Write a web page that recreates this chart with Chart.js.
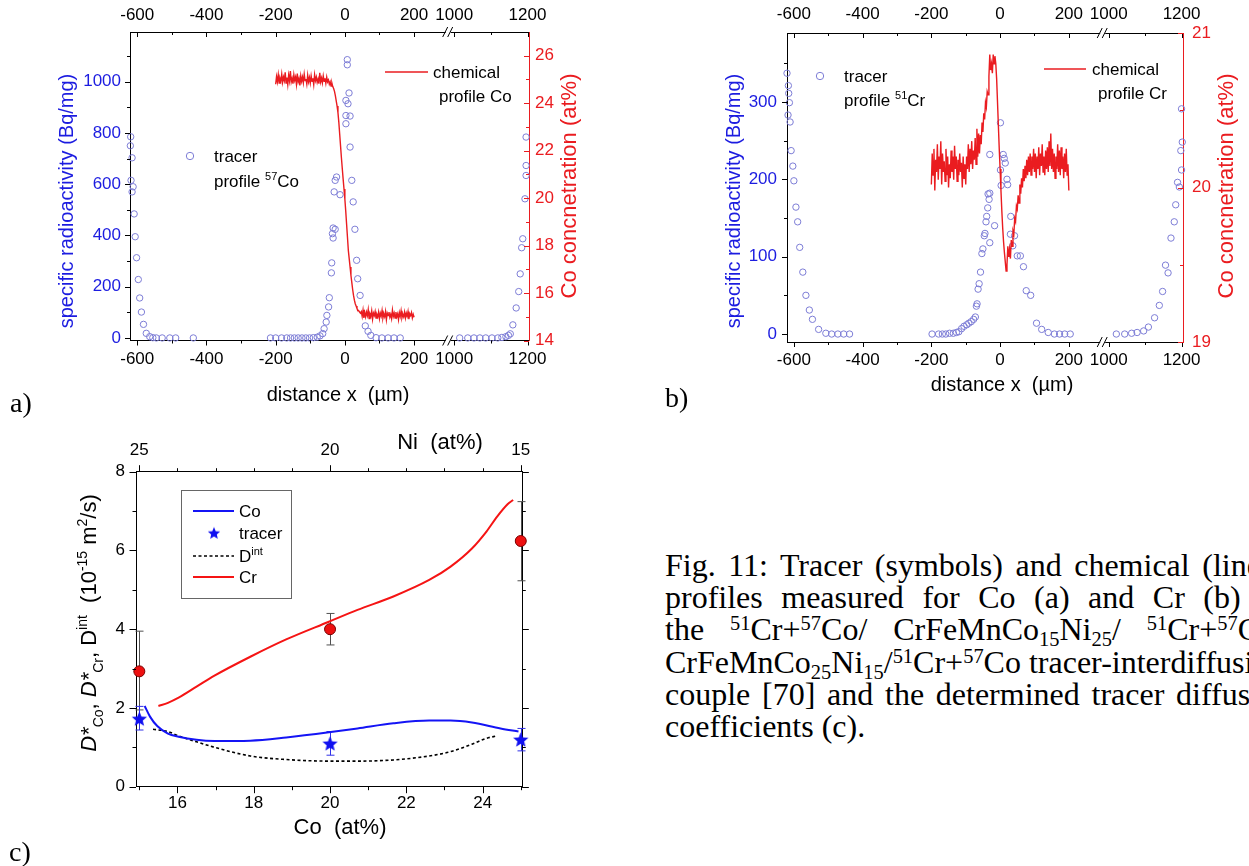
<!DOCTYPE html>
<html>
<head>
<meta charset="utf-8">
<script src="https://cdn.jsdelivr.net/npm/chart.js@4"></script>
<style>
html, body { margin: 0; padding: 0; background: #fff; }
body { width: 1249px; height: 866px; position: relative; overflow: hidden; }
canvas { position: absolute; }
.lab { position: absolute; font-family: 'Liberation Serif'; font-size: 28px; line-height: 28px; }
#cap { position: absolute; left: 665px; top: 548.5px; font-family: 'Liberation Serif'; font-size: 32px; line-height: 32.4px; color: #000; }
#cap .ln { width: 619px; text-align: justify; text-align-last: justify; height: 32.4px; }
#cap .left { text-align: left; text-align-last: left; white-space: nowrap; }
#cap sup { font-size: 0.64em; vertical-align: 0.5em; line-height: 0; }
#cap sub { font-size: 0.64em; vertical-align: -0.3em; line-height: 0; }
</style>
</head>
<body>
<canvas id="ca" width="640" height="420" style="left:0;top:0"></canvas>
<canvas id="cb" width="599" height="420" style="left:650px;top:0"></canvas>
<canvas id="cc" width="640" height="436" style="left:0;top:430px"></canvas>
<div class="lab" style="left:10px;top:389px">a)</div>
<div class="lab" style="left:665px;top:384px">b)</div>
<div class="lab" style="left:9px;top:838px">c)</div>
<div id="cap">
  <div class="ln">Fig. 11: Tracer (symbols) and chemical (lines)</div>
  <div class="ln">profiles measured for Co (a) and Cr (b) in</div>
  <div class="ln">the <sup>51</sup>Cr+<sup>57</sup>Co/ CrFeMnCo<sub>15</sub>Ni<sub>25</sub>/ <sup>51</sup>Cr+<sup>57</sup>Co/</div>
  <div class="ln left">CrFeMnCo<sub>25</sub>Ni<sub>15</sub>/<sup>51</sup>Cr+<sup>57</sup>Co tracer-interdiffusion</div>
  <div class="ln" style="width:626px">couple [70] and the determined tracer diffusion</div>
  <div class="ln left">coefficients (c).</div>
</div>
<script>
// distance axis of a) and b) is broken between 300 and 985 um
const xMajor = [-600, -400, -200, 0, 200, 1000, 1200];
const xMinor = [-500, -300, -100, 100, 1100];

// a) 57Co tracer (Bq/mg)
const coTracerX = [-619, -620, -615, -618, -612, -615, -609, -606, -602, -597, -593, -588, -582, -574, -564, -555, -545, -528, -506, -489, -438,
  -215, -200, -183, -168, -157, -146, -135, -124, -113, -102, -91, -80, -72, -64, -60, -54, -52, -47, -45, -39, -38, -36, -34, -34, -28, -31, -28, -24, -14,
  3, 3, 3, 7, 7, 9, 12, 15, 15, 20, 24, 29, 34, 37, 44, 59, 67, 75, 90, 107, 125, 142, 160,
  1015, 1037, 1054, 1070, 1086, 1103, 1119, 1130, 1141, 1148, 1153, 1160, 1169, 1176, 1180, 1184, 1187, 1193, 1196, 1196, 1196];
const coTracerY = [785, 750, 703, 615, 590, 570, 484, 395, 313, 228, 156, 101, 53, 18, 5, 1, 0, 0, 0, 0, 0,
  0, 0, 0, 0, 0, 0, 0, 0, 0, 0, 1, 3, 8, 17, 36, 62, 88, 121, 157, 254, 293, 407, 390, 429, 424, 570, 615, 628, 559,
  836, 868, 927, 1086, 1066, 914, 956, 866, 745, 615, 531, 424, 303, 231, 166, 47, 26, 10, 1, 0, 0, 0, 0,
  0, 0, 0, 0, 0, 0, 0, 2, 5, 10, 16, 51, 117, 181, 250, 352, 387, 543, 634, 673, 784];

// positions (um) of the chemical profile readings, a) and b)
const chemX = [-200, -197.5, -195, -192.5, -190, -187.5, -185, -182.5, -180, -177.5,
  -175, -172.5, -170, -167.5, -165, -162.5, -160, -157.5, -155, -152.5,
  -150, -147.5, -145, -142.5, -140, -137.5, -135, -132.5, -130, -127.5,
  -125, -122.5, -120, -117.5, -115, -112.5, -110, -107.5, -105, -102.5,
  -100, -97.5, -95, -92.5, -90, -87.5, -85, -82.5, -80, -77.5,
  -75, -72.5, -70, -67.5, -65, -62.5, -60, -57.5, -55, -52.5,
  -50, -47.5, -45, -42.5, -40, -37.5, -35, -32.5, -30, -27.5,
  -25, -22.5, -20, -17.5, -15, -12.5, -10, -7.5, -5, -2.5,
  0, 2.5, 5, 7.5, 10, 12.5, 15, 17.5, 20, 22.5,
  25, 27.5, 30, 32.5, 35, 37.5, 40, 42.5, 45, 47.5,
  50, 52.5, 55, 57.5, 60, 62.5, 65, 67.5, 70, 72.5,
  75, 77.5, 80, 82.5, 85, 87.5, 90, 92.5, 95, 97.5,
  100, 102.5, 105, 107.5, 110, 112.5, 115, 117.5, 120, 122.5,
  125, 127.5, 130, 132.5, 135, 137.5, 140, 142.5, 145, 147.5,
  150, 152.5, 155, 157.5, 160, 162.5, 165, 167.5, 170, 172.5,
  175, 177.5, 180, 182.5, 185, 187.5, 190, 192.5, 195, 197.5, 200];

// a) chemical Co profile (at%)
const coChem = [24.8, 25.12, 24.9, 25.2, 24.85, 25.05, 24.92, 25.22, 24.88, 25.1,
  24.95, 25.3, 24.85, 25.08, 24.78, 25.18, 24.94, 25.35, 24.9, 25.05,
  24.82, 25.2, 24.96, 25.1, 24.8, 25.25, 24.9, 25.04, 24.75, 25.15,
  24.92, 25.1, 24.86, 25.22, 24.95, 25.02, 24.8, 25.18, 24.9, 25.08,
  24.85, 25.15, 24.92, 25.05, 24.78, 25.2, 24.95, 25.1, 24.88, 25.02,
  24.82, 25.28, 24.9, 25.06, 24.86, 25.15, 24.92, 25.05, 24.84, 25.1,
  24.9, 24.98, 24.8, 24.9, 24.72, 24.85, 24.7, 24.62, 24.5, 24.32,
  24.1, 23.88, 23.6, 23.2, 22.7, 22.2, 21.7, 21.25, 20.8, 20.38,
  19.95, 19.45, 18.9, 18.35, 17.8, 17.45, 17.1, 16.75, 16.45, 16.15,
  15.9, 15.7, 15.55, 15.45, 15.35, 15.28, 15.25, 15.2, 15.15, 15.22,
  15.02, 15.28, 14.95, 15.18, 15.0, 15.2, 15.05, 15.3, 14.92, 15.12,
  15.02, 15.25, 14.9, 15.15, 15.05, 15.22, 14.95, 15.1, 15.0, 15.2,
  14.92, 15.15, 15.02, 15.26, 14.95, 15.12, 15.0, 15.22, 14.88, 15.15,
  15.05, 15.2, 14.98, 15.1, 14.92, 15.28, 15.02, 15.15, 14.95, 15.2,
  15.0, 15.12, 14.88, 15.18, 15.02, 15.25, 14.96, 15.1, 15.0, 15.2,
  14.95, 15.15, 15.02, 15.22, 14.9, 15.12, 15.05, 15.18, 14.95, 15.1, 14.98];

// b) 51Cr tracer (Bq/mg) and chemical Cr profile (at%)
const crTracerX = [-620, -616, -615, -613, -617, -611, -608, -603, -600, -594, -589, -583, -574, -565, -555, -546, -528, -507, -490, -472, -455, -438,
  -198, -179, -168, -158, -147, -136, -127, -120, -112, -105, -97, -91, -84, -77, -72, -69, -67, -64, -61, -57, -53, -50, -46,
  -44, -41, -39, -36, -32, -35, -30, -30, -30, -16, 1, 1, 3, 9, 12, 15, 20, 22, 31, 30, 42, 37, 50, 59, 68, 76, 89, 106, 121, 140, 158, 173, 188, 204,
  1021, 1044, 1063, 1078, 1096, 1109, 1126, 1139, 1148, 1156, 1163, 1171, 1180, 1184, 1189, 1194, 1200, 1198, 1202, 1200];
const crTracerY = [337, 321, 311, 299, 283, 274, 237, 217, 198, 164, 145, 112, 80, 50, 31, 19, 6, 1, 0, 0, 0, 0,
  0, 0, 0, 0, 1, 1, 2, 3, 7, 10, 12, 14, 16, 19, 22, 36, 39, 58, 65, 80, 104, 110, 127,
  130, 145, 152, 163, 174, 181, 182, 118, 232, 140, 273, 212, 192, 232, 227, 221, 200, 193, 152, 129, 127, 114, 101, 101, 87, 56, 50, 14, 6, 2, 0, 0, 0, 0,
  0, 0, 1, 2, 4, 9, 21, 37, 55, 89, 79, 124, 145, 167, 196, 190, 212, 237, 248, 291];
const crChem = [20.02, 20.22, 20.08, 20.25, 19.98, 20.18, 20.1, 20.28, 20.05, 20.2,
  20.12, 20.3, 20.02, 20.22, 20.1, 20.17, 20.04, 20.25, 20.08, 20.2,
  20.0, 20.15, 20.06, 20.24, 20.1, 20.2, 20.05, 20.27, 20.12, 20.2,
  20.04, 20.18, 20.08, 20.22, 20.1, 20.16, 20.0, 20.2, 20.06, 20.15,
  20.02, 20.2, 20.12, 20.28, 20.1, 20.25, 20.15, 20.3, 20.12, 20.24,
  20.18, 20.32, 20.15, 20.38, 20.2, 20.35, 20.22, 20.34, 20.28, 20.42,
  20.36, 20.48, 20.44, 20.55, 20.52, 20.62, 20.6, 20.72, 20.86, 20.76,
  20.8, 20.74, 20.86, 20.8, 20.85, 20.8, 20.7, 20.55, 20.4, 20.25,
  20.12, 19.98, 19.85, 19.74, 19.65, 19.58, 19.52, 19.46, 19.5, 19.62,
  19.55, 19.6, 19.54, 19.66, 19.62, 19.72, 19.7, 19.8, 19.78, 19.88,
  19.86, 19.95, 19.9, 20.02, 19.96, 20.06, 20.0, 20.12, 20.04, 20.14,
  20.06, 20.18, 20.08, 20.2, 20.1, 20.22, 20.08, 20.2, 20.12, 20.25,
  20.1, 20.22, 20.06, 20.2, 20.12, 20.26, 20.08, 20.22, 20.14, 20.28,
  20.1, 20.2, 20.08, 20.24, 20.12, 20.26, 20.1, 20.3, 20.14, 20.35,
  20.12, 20.25, 20.1, 20.22, 20.06, 20.2, 20.12, 20.28, 20.1, 20.24,
  20.08, 20.26, 20.12, 20.2, 20.06, 20.22, 20.1, 20.25, 20.08, 20.15, 19.98];

// c) diffusion coefficients (1e-15 m2/s) vs Co (at%)
const coLineCo = [15.14, 15.28, 15.47, 15.75, 16.03, 16.5, 16.97, 17.91, 18.85, 19.97, 20.72, 21.66, 22.6, 23.16, 23.72, 24.47, 24.94];
const coLineD = [2.05, 1.78, 1.54, 1.35, 1.27, 1.19, 1.16, 1.17, 1.25, 1.38, 1.48, 1.61, 1.68, 1.68, 1.63, 1.48, 1.40];
const dintCo = [15.36, 15.75, 16.03, 16.5, 16.97, 17.91, 18.85, 19.97, 20.72, 21.66, 22.6, 23.16, 23.72, 24.1, 24.38];
const dintD = [1.46, 1.40, 1.29, 1.14, 1.0, 0.78, 0.69, 0.65, 0.65, 0.68, 0.78, 0.89, 1.08, 1.23, 1.29];
const crLineCo = [15.5, 15.75, 16.03, 16.5, 16.97, 17.91, 18.85, 19.97, 20.72, 21.66, 22.6, 23.16, 23.72, 24.1, 24.38, 24.66, 24.8];
const crLineD = [2.05, 2.13, 2.26, 2.54, 2.82, 3.30, 3.74, 4.19, 4.49, 4.83, 5.25, 5.59, 6.05, 6.48, 6.86, 7.18, 7.28];
const tracerCo = [15, 20, 25];
const crTracerD = [2.93, 4.0, 6.24];
const crErrLo = [1.95, 3.6, 5.23];
const crErrHi = [3.95, 4.4, 7.24];
const coTracerD = [1.73, 1.1, 1.2];
const coErrLo = [1.44, 0.8, 0.91];
const coErrHi = [2.04, 1.4, 1.48];
const coTicks = [16, 18, 20, 22, 24];
const coMinor = [15, 17, 19, 21, 23, 25];
const niTicks = [25, 20, 15];

const BLUE = '#1c1ce0', RED = '#ea1c20', CIRC = '#7d7dd6';
Chart.defaults.font.family = "'Liberation Sans', Arial, sans-serif";
Chart.defaults.font.size = 17;
Chart.defaults.color = '#000';

const brk = x => x <= 300 ? x : 300 + (x - 985) * 1.06;
const pts = (xs, ys, f = v => v) => xs.map((x, i) => ({ x: f(x), y: ys[i] }));

function tickMarks(chart, id, vals, len, dir, color) {
  const s = chart.scales[id], a = chart.chartArea, ctx = chart.ctx;
  const g = dir === 'in' ? 1 : -1;
  ctx.save();
  ctx.strokeStyle = color;
  ctx.lineWidth = 1;
  ctx.beginPath();
  vals.forEach(v => {
    const p = Math.round(s.getPixelForValue(v)) + 0.5;
    if (s.position === 'bottom') { ctx.moveTo(p, a.bottom); ctx.lineTo(p, a.bottom - g * len); }
    else if (s.position === 'top') { ctx.moveTo(p, a.top); ctx.lineTo(p, a.top + g * len); }
    else if (s.position === 'left') { ctx.moveTo(a.left, p); ctx.lineTo(a.left + g * len, p); }
    else { ctx.moveTo(a.right, p); ctx.lineTo(a.right - g * len, p); }
  });
  ctx.stroke();
  ctx.restore();
}

function breakMarks(chart) {
  const ctx = chart.ctx, a = chart.chartArea;
  const px = chart.scales.x.getPixelForValue(brk(300));
  ctx.save();
  [a.top, a.bottom].forEach(y => {
    ctx.fillStyle = '#fff';
    ctx.fillRect(px - 3, y - 2, 5, 4);
    ctx.strokeStyle = '#000';
    ctx.lineWidth = 1;
    ctx.beginPath();
    ctx.moveTo(px - 6, y + 5); ctx.lineTo(px - 1, y - 5);
    ctx.moveTo(px - 1, y + 5); ctx.lineTo(px + 4, y - 5);
    ctx.stroke();
  });
  ctx.restore();
}

// parts: [text, kind] with kind '', 'i', 'sub', 'sup'
function rich(ctx, parts, x, y, size, color, align) {
  const font = k => (k === 'i' ? 'italic ' : '') + (k === 'sub' || k === 'sup' ? Math.round(size * 0.62) : size) + "px 'Liberation Sans'";
  let w = 0;
  parts.forEach(([t, k]) => { ctx.font = font(k); w += ctx.measureText(t).width; });
  let cx = align === 'center' ? x - w / 2 : x;
  ctx.fillStyle = color;
  ctx.textAlign = 'left';
  ctx.textBaseline = 'alphabetic';
  parts.forEach(([t, k]) => {
    ctx.font = font(k);
    const dy = k === 'sup' ? -size * 0.42 : k === 'sub' ? size * 0.3 : 0;
    ctx.fillText(t, cx, y + dy);
    cx += ctx.measureText(t).width;
  });
}

function label(ctx, text, x, y, size, color, rot) {
  ctx.save();
  ctx.translate(x, y);
  if (rot) ctx.rotate(-Math.PI / 2);
  ctx.font = size + "px 'Liberation Sans'";
  ctx.fillStyle = color;
  ctx.textAlign = 'center';
  ctx.textBaseline = 'middle';
  ctx.fillText(text, 0, 0);
  ctx.restore();
}

function circle(ctx, x, y, r, color) {
  ctx.save();
  ctx.strokeStyle = color;
  ctx.lineWidth = 1;
  ctx.beginPath();
  ctx.arc(x, y, r, 0, Math.PI * 2);
  ctx.stroke();
  ctx.restore();
}

function hline(ctx, x0, x1, y, color, w, dash) {
  ctx.save();
  ctx.strokeStyle = color;
  ctx.lineWidth = w;
  ctx.setLineDash(dash || []);
  ctx.beginPath();
  ctx.moveTo(x0, y); ctx.lineTo(x1, y);
  ctx.stroke();
  ctx.restore();
}

function brokenX(pos, h, min, pad) {
  return {
    type: 'linear', position: pos, min: min, max: brk(1204),
    afterBuildTicks: s => { s.ticks = xMajor.map(v => ({ value: brk(v) })); },
    afterFit: s => { s.height = h; },
    ticks: { callback: (v, i) => String(xMajor[i]), padding: pad, maxRotation: 0, autoSkip: false, color: '#000' },
    grid: { display: false, drawTicks: false },
    border: { color: '#000' }
  };
}

function yAxis(pos, w, min, max, major, color, border, pad, show = true) {
  return {
    type: 'linear', position: pos, min: min, max: max,
    afterBuildTicks: s => { s.ticks = major.map(v => ({ value: v })); },
    afterFit: s => { s.width = w; },
    ticks: { display: show, callback: v => String(v), padding: pad, color: color },
    grid: { display: false, drawTicks: false },
    border: { color: border }
  };
}

const common = {
  responsive: false, animation: false,
  layout: { padding: 0 },
  plugins: { legend: { display: false }, tooltip: { enabled: false } }
};

// ---------- a)
new Chart(document.getElementById('ca'), {
  type: 'scatter',
  data: {
    datasets: [
      { data: pts(chemX, coChem, brk), yAxisID: 'y2', showLine: true, borderColor: RED, borderWidth: 1.4, pointRadius: 0 },
      { data: pts(coTracerX, coTracerY, brk), yAxisID: 'y', pointRadius: 3.2, pointBorderColor: CIRC, pointBackgroundColor: 'rgba(0,0,0,0)', pointBorderWidth: 1, clip: false }
    ]
  },
  options: Object.assign({}, common, {
    scales: {
      x: brokenX('bottom', 79.5, -621, 9),
      xTop: brokenX('top', 32, -621, 6),
      y: yAxis('left', 130, -10, 1194, [0, 200, 400, 600, 800, 1000], BLUE, '#000', 9),
      y2: yAxis('right', 111, 14, 27, [14, 16, 18, 20, 22, 24, 26], RED, RED, 6)
    }
  }),
  plugins: [{
    id: 'decoA',
    afterDraw(chart) {
      const ctx = chart.ctx;
      tickMarks(chart, 'x', xMajor.map(brk), 5, 'out', '#000');
      tickMarks(chart, 'x', xMinor.map(brk), 3, 'out', '#000');
      tickMarks(chart, 'xTop', xMajor.map(brk), 5, 'in', '#000');
      tickMarks(chart, 'xTop', xMinor.map(brk), 3, 'in', '#000');
      tickMarks(chart, 'y', [0, 200, 400, 600, 800, 1000], 5, 'out', '#000');
      tickMarks(chart, 'y', [100, 300, 500, 700, 900, 1100], 3, 'out', '#000');
      tickMarks(chart, 'y2', [14, 16, 18, 20, 22, 24, 26], 5, 'in', RED);
      tickMarks(chart, 'y2', [15, 17, 19, 21, 23, 25], 3, 'in', RED);
      breakMarks(chart);
      label(ctx, 'specific radioactivity (Bq/mg)', 67, 201, 20, BLUE, true);
      label(ctx, 'Co concnetration (at%)', 570, 186, 22, RED, true);
      label(ctx, 'distance x  (\u00b5m)', 338, 395, 20, '#000', false);
      circle(ctx, 190, 156, 3.7, CIRC);
      rich(ctx, [['tracer', '']], 214, 162, 17, '#000', 'left');
      rich(ctx, [['profile ', ''], ['57', 'sup'], ['Co', '']], 214, 187, 17, '#000', 'left');
      hline(ctx, 385, 428, 72, RED, 1.6);
      rich(ctx, [['chemical', '']], 433, 78, 17, '#000', 'left');
      rich(ctx, [['profile Co', '']], 439, 102, 17, '#000', 'left');
    }
  }]
});

// ---------- b)
new Chart(document.getElementById('cb'), {
  type: 'scatter',
  data: {
    datasets: [
      { data: pts(chemX, crChem, brk), yAxisID: 'y2', showLine: true, borderColor: RED, borderWidth: 1.4, pointRadius: 0 },
      { data: pts(crTracerX, crTracerY, brk), yAxisID: 'y', pointRadius: 3.2, pointBorderColor: CIRC, pointBackgroundColor: 'rgba(0,0,0,0)', pointBorderWidth: 1, clip: false }
    ]
  },
  options: Object.assign({}, common, {
    scales: {
      x: brokenX('bottom', 78, -620, 8),
      xTop: brokenX('top', 33, -620, 8),
      y: yAxis('left', 137, -10.3, 389, [0, 100, 200, 300], BLUE, '#000', 10),
      y2: yAxis('right', 66, 19, 21, [19, 20, 21], RED, RED, 9)
    }
  }),
  plugins: [{
    id: 'decoB',
    afterDraw(chart) {
      const ctx = chart.ctx;
      tickMarks(chart, 'x', xMajor.map(brk), 5, 'out', '#000');
      tickMarks(chart, 'x', xMinor.map(brk), 3, 'out', '#000');
      tickMarks(chart, 'xTop', xMajor.map(brk), 5, 'in', '#000');
      tickMarks(chart, 'xTop', xMinor.map(brk), 3, 'in', '#000');
      tickMarks(chart, 'y', [0, 100, 200, 300], 5, 'out', '#000');
      tickMarks(chart, 'y', [50, 150, 250, 350], 3, 'out', '#000');
      tickMarks(chart, 'y2', [19, 20, 21], 5, 'in', RED);
      tickMarks(chart, 'y2', [19.5, 20.5], 3, 'in', RED);
      breakMarks(chart);
      label(ctx, 'specific radioactivity (Bq/mg)', 84, 201, 20, BLUE, true);
      label(ctx, 'Co concnetration (at%)', 577, 186, 22, RED, true);
      label(ctx, 'distance x  (\u00b5m)', 352, 385, 20, '#000', false);
      circle(ctx, 170, 76, 3.7, CIRC);
      rich(ctx, [['tracer', '']], 194, 82, 17, '#000', 'left');
      rich(ctx, [['profile ', ''], ['51', 'sup'], ['Cr', '']], 194, 106, 17, '#000', 'left');
      hline(ctx, 394, 436, 69, RED, 1.6);
      rich(ctx, [['chemical', '']], 442, 75, 17, '#000', 'left');
      rich(ctx, [['profile Cr', '']], 448, 99, 17, '#000', 'left');
    }
  }]
});

// ---------- c)
function starImg(size, color) {
  const c = document.createElement('canvas');
  c.width = c.height = size;
  const g = c.getContext('2d'), r = size / 2, ri = r * 0.42;
  g.beginPath();
  for (let k = 0; k < 10; k++) {
    const rr = k % 2 ? ri : r - 0.5, an = -Math.PI / 2 + k * Math.PI / 5;
    g.lineTo(r + rr * Math.cos(an), r + 0.8 + rr * Math.sin(an));
  }
  g.closePath();
  g.fillStyle = color;
  g.fill();
  return c;
}
const STAR = starImg(17, '#1010f0');
const STAR_L = starImg(14, '#1010f0');

function errBars(chart, lo, hi, color) {
  const ctx = chart.ctx, sx = chart.scales.x, sy = chart.scales.y;
  ctx.save();
  ctx.strokeStyle = color;
  ctx.lineWidth = 1;
  ctx.beginPath();
  tracerCo.forEach((c, i) => {
    const x = Math.round(sx.getPixelForValue(c)) + 0.5;
    const y0 = sy.getPixelForValue(lo[i]), y1 = sy.getPixelForValue(hi[i]);
    ctx.moveTo(x, y0); ctx.lineTo(x, y1);
    ctx.moveTo(x - 4, y0); ctx.lineTo(x + 4, y0);
    ctx.moveTo(x - 4, y1); ctx.lineTo(x + 4, y1);
  });
  ctx.stroke();
  ctx.restore();
}

new Chart(document.getElementById('cc'), {
  type: 'scatter',
  data: {
    datasets: [
      { data: pts(tracerCo, coTracerD), pointStyle: STAR, pointRadius: 8, clip: false },
      { data: pts(tracerCo, crTracerD), pointStyle: 'circle', pointRadius: 5.5, pointBackgroundColor: '#ee1010', pointBorderColor: '#7a0000', pointBorderWidth: 1, clip: false },
      { data: pts(coLineCo, coLineD), showLine: true, borderColor: '#1414f5', borderWidth: 2, pointRadius: 0, cubicInterpolationMode: 'monotone' },
      { data: pts(crLineCo, crLineD), showLine: true, borderColor: '#f51414', borderWidth: 2, pointRadius: 0, cubicInterpolationMode: 'monotone' },
      { data: pts(dintCo, dintD), showLine: true, borderColor: '#000', borderWidth: 1.6, borderDash: [3, 2.5], pointRadius: 0, cubicInterpolationMode: 'monotone' }
    ]
  },
  options: Object.assign({}, common, {
    scales: {
      x: {
        type: 'linear', position: 'bottom', min: 14.913, max: 25.04,
        afterBuildTicks: s => { s.ticks = coTicks.map(v => ({ value: v })); },
        afterFit: s => { s.height = 79.3; },
        ticks: { callback: v => String(v), padding: 6, maxRotation: 0 },
        grid: { display: false, drawTicks: false }, border: { color: '#000' }
      },
      xTop: {
        type: 'linear', position: 'top', min: 14.913, max: 25.04,
        afterBuildTicks: s => { s.ticks = niTicks.map(v => ({ value: 40 - v })); },
        afterFit: s => { s.height = 41.7; },
        ticks: { callback: (v, i) => String(niTicks[i]), padding: 11.5, maxRotation: 0 },
        grid: { display: false, drawTicks: false }, border: { color: '#000' }
      },
      y: yAxis('left', 136, 0, 8, [0, 2, 4, 6, 8], '#000', '#000', 11),
      y2: yAxis('right', 117.7, 0, 8, [0, 2, 4, 6, 8], '#000', '#000', 5, false)
    }
  }),
  plugins: [{
    id: 'decoC',
    beforeDatasetsDraw(chart) {
      errBars(chart, crErrLo, crErrHi, '#505050');
      errBars(chart, coErrLo, coErrHi, '#3030e8');
    },
    afterDraw(chart) {
      const ctx = chart.ctx, a = chart.chartArea;
      tickMarks(chart, 'x', coTicks, 6.5, 'out', '#000');
      tickMarks(chart, 'x', coMinor, 3.5, 'out', '#000');
      tickMarks(chart, 'xTop', niTicks.map(v => 40 - v), 6.5, 'out', '#000');
      tickMarks(chart, 'xTop', [16, 17, 18, 19, 21, 22, 23, 24], 3.5, 'out', '#000');
      tickMarks(chart, 'y', [0, 2, 4, 6, 8], 6.5, 'out', '#000');
      tickMarks(chart, 'y', [1, 3, 5, 7], 3.5, 'out', '#000');
      tickMarks(chart, 'y2', [0, 2, 4, 6, 8], 6.5, 'out', '#000');
      tickMarks(chart, 'y2', [1, 3, 5, 7], 3.5, 'out', '#000');
      // frame lines run a little past the corners
      hline(ctx, a.left - 5, a.left, Math.round(a.top) + 0.5, '#000', 1);
      hline(ctx, a.right, a.right + 6, Math.round(a.top) + 0.5, '#000', 1);
      hline(ctx, a.right, a.right + 6, Math.round(a.bottom) + 0.5, '#000', 1);
      label(ctx, 'Co  (at%)', 340, 398, 22, '#000', false);
      label(ctx, 'Ni  (at%)', 440, 13, 22, '#000', false);
      ctx.save();
      ctx.translate(96, 193);
      ctx.rotate(-Math.PI / 2);
      rich(ctx, [['D*', 'i'], ['Co', 'sub'], [', ', ''], ['D*', 'i'], ['Cr', 'sub'], [', D', ''], ['int', 'sup'],
        ['  (10', ''], ['-15', 'sup'], [' m', ''], ['2', 'sup'], ['/s)', '']], 0, 0, 22, '#000', 'center');
      ctx.restore();
      // legend box
      ctx.save();
      ctx.strokeStyle = '#666';
      ctx.lineWidth = 1;
      ctx.strokeRect(181.5, 60.5, 110, 108);
      ctx.restore();
      hline(ctx, 193, 234, 81, '#1414f5', 2);
      rich(ctx, [['Co', '']], 239, 87, 17, '#000', 'left');
      ctx.drawImage(STAR_L, 214 - 7, 102.7 - 7);
      rich(ctx, [['tracer', '']], 239, 109, 17, '#000', 'left');
      hline(ctx, 193, 234, 126, '#000', 1.6, [3, 2.5]);
      rich(ctx, [['D', ''], ['int', 'sup']], 239, 132, 17, '#000', 'left');
      hline(ctx, 193, 234, 147, '#f51414', 2);
      rich(ctx, [['Cr', '']], 239, 153, 17, '#000', 'left');
    }
  }]
});
</script>
</body>
</html>
